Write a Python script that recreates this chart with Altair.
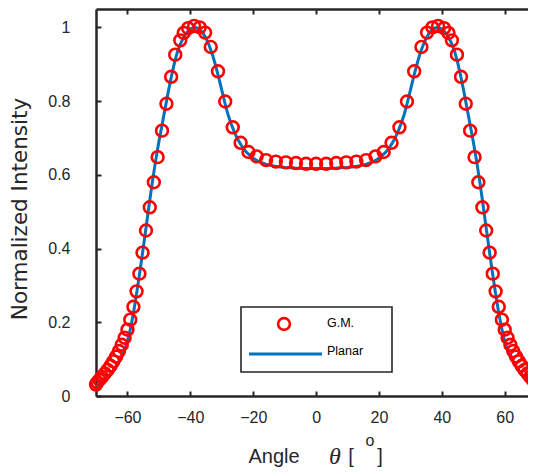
import altair as alt
import pandas as pd

# ---------------- data ----------------
gm_angle = [-70.0, -69.6, -68.9, -68.1, -67.2, -66.3, -65.4, -64.5, -63.6, -62.7,
            -61.8, -60.9, -60.0, -59.1, -58.1, -57.1, -56.2, -55.2, -54.1, -52.9,
            -51.6, -50.4, -49.0, -47.6, -46.1, -44.8, -43.2, -42.1, -40.7, -38.8,
            -37.0, -35.3, -33.5, -31.2, -28.9, -26.5, -24.0, -21.5, -18.9, -15.9,
            -12.8, -9.6, -6.4, -3.2, 0.0,
            3.2, 6.4, 9.6, 12.8, 15.9, 18.9, 21.5, 24.0, 26.5, 28.9,
            31.2, 33.5, 35.3, 37.0, 38.8, 40.7, 42.1, 43.2, 44.8, 46.1,
            47.6, 49.0, 50.4, 51.6, 52.9, 54.1, 55.2, 56.2, 57.1, 58.1,
            59.1, 60.0, 60.9, 61.8, 62.7, 63.6, 64.5, 65.4, 66.3, 67.2,
            68.1, 68.9, 69.6, 70.0]
gm_intensity = [0.031, 0.037, 0.044, 0.052, 0.061, 0.071, 0.082, 0.094, 0.107, 0.122,
                0.139, 0.158, 0.180, 0.207, 0.242, 0.284, 0.332, 0.389, 0.449, 0.512,
                0.580, 0.648, 0.720, 0.793, 0.866, 0.926, 0.965, 0.985, 0.998, 1.004,
                1.000, 0.986, 0.947, 0.881, 0.799, 0.729, 0.687, 0.662, 0.650, 0.640,
                0.636, 0.634, 0.632, 0.630, 0.630,
                0.630, 0.632, 0.634, 0.636, 0.640, 0.650, 0.662, 0.687, 0.729, 0.799,
                0.881, 0.947, 0.986, 1.000, 1.004, 0.998, 0.985, 0.965, 0.926, 0.866,
                0.793, 0.720, 0.648, 0.580, 0.512, 0.449, 0.389, 0.332, 0.284, 0.242,
                0.207, 0.180, 0.158, 0.139, 0.122, 0.107, 0.094, 0.082, 0.071, 0.061,
                0.052, 0.044, 0.037, 0.031]

planar_angle = [-70, -68, -66, -64, -62, -61, -60, -59, -58, -57, -56, -55, -54, -53,
                -52, -51, -50, -49, -48, -47, -46, -45, -44, -43, -42, -41, -40, -39,
                -38, -37, -36, -35, -34, -33, -32, -31, -30, -29, -28, -27, -26, -25,
                -24, -23, -22, -20, -18, -16, -14, -12, -10, -8, -6, -4, -2, 0,
                2, 4, 6, 8, 10, 12, 14, 16, 18, 20, 22, 23, 24, 25, 26, 27, 28, 29,
                30, 31, 32, 33, 34, 35, 36, 37, 38, 39, 40, 41, 42, 43, 44, 45, 46,
                47, 48, 49, 50, 51, 52, 53, 54, 55, 56, 57, 58, 59, 60, 61, 62, 64,
                66, 68, 70]
planar_intensity = [0.026, 0.037, 0.052, 0.073, 0.102, 0.122, 0.148, 0.184, 0.230, 0.283,
                    0.340, 0.400, 0.462, 0.525, 0.585, 0.640, 0.690, 0.735, 0.781, 0.826,
                    0.868, 0.906, 0.937, 0.958, 0.975, 0.988, 0.996, 1.000, 0.999, 0.995,
                    0.985, 0.970, 0.951, 0.927, 0.898, 0.865, 0.830, 0.795, 0.763, 0.738,
                    0.716, 0.698, 0.683, 0.670, 0.660, 0.645, 0.635, 0.629, 0.625, 0.622,
                    0.620, 0.619, 0.618, 0.617, 0.617, 0.617,
                    0.617, 0.617, 0.618, 0.619, 0.620, 0.622, 0.625, 0.629, 0.635, 0.645,
                    0.660, 0.670, 0.683, 0.698, 0.716, 0.738, 0.763, 0.795, 0.830, 0.865,
                    0.898, 0.927, 0.951, 0.970, 0.985, 0.995, 0.999, 1.000, 0.996, 0.988,
                    0.975, 0.958, 0.937, 0.906, 0.868, 0.826, 0.781, 0.735, 0.690, 0.640,
                    0.585, 0.525, 0.462, 0.400, 0.340, 0.283, 0.230, 0.184, 0.148, 0.122,
                    0.102, 0.073, 0.052, 0.037, 0.026]

x_ticks = [-60, -40, -20, 0, 20, 40, 60]
y_ticks = [0, 0.2, 0.4, 0.6, 0.8, 1]
series_names = ["G.M.", "Planar"]
y_title = ["Normalized Intensity"]
x_title_parts = ["Angle", "\u03b8", "[", "o", "]"]

# ---------------- styling ----------------
# The reference axes run from -70 to 70 over ~440 px and are cut off at the
# right edge of the picture; the page only fits ~432 px, so the visible
# domain ends where the reference picture ends.
W, H = 432, 387
AX = "#262626"
FONT = "Liberation Sans"
RED = "#FF0000"
BLUE = "#0072BD"

gm = pd.DataFrame({"angle": gm_angle, "intensity": gm_intensity})
pl = pd.DataFrame({"angle": planar_angle, "intensity": planar_intensity})

xs = alt.Scale(domain=[-70, 67.4], nice=False, zero=False)
ys = alt.Scale(domain=[0, 1.05], nice=False, zero=False)

common = dict(grid=False, title=None, domainColor=AX, tickColor=AX, labelColor=AX,
              labelFont=FONT, domainWidth=2.5, tickWidth=2)

points = alt.Chart(gm).mark_point(
    shape="circle", filled=False, stroke=RED, strokeWidth=2.6, size=139, opacity=1
).encode(
    x=alt.X("angle:Q", scale=xs, axis=alt.Axis(
        orient="bottom", values=x_ticks, ticks=False, tickSize=0, labelPadding=13,
        labelFontSize=16, format="d", **common)),
    y=alt.Y("intensity:Q", scale=ys, axis=alt.Axis(
        orient="left", values=y_ticks, ticks=False, tickSize=0, labelPadding=26,
        labelFontSize=16, format="~g", **common)),
)

line = alt.Chart(pl).mark_line(color=BLUE, strokeWidth=3).encode(
    x=alt.X("angle:Q", scale=xs, axis=alt.Axis(
        orient="top", offset=-H, values=x_ticks, labels=False, domain=False,
        tickSize=5, **common)),
    y=alt.Y("intensity:Q", scale=ys, axis=alt.Axis(
        orient="right", offset=-W, values=y_ticks, labels=False, domain=False,
        tickSize=5, **common)),
)

frame = alt.Chart(pl).mark_line(opacity=0).encode(
    x=alt.X("angle:Q", scale=xs, axis=alt.Axis(
        orient="bottom", offset=-H, values=x_ticks, labels=False, domain=True,
        tickSize=5, **common)),
)

leg_df = pd.DataFrame({"label": series_names})
leg_box = alt.Chart(leg_df).transform_filter(
    alt.datum.label == series_names[0]
).mark_rect(fill="white", stroke=AX, strokeWidth=1.6).encode(
    x=alt.value(145), x2=alt.value(296), y=alt.value(298), y2=alt.value(363)
)
leg_pt = alt.Chart(leg_df).transform_filter(
    alt.datum.label == series_names[0]
).mark_point(shape="circle", filled=False, stroke=RED, strokeWidth=2.6, size=139, opacity=1).encode(
    x=alt.value(188), y=alt.value(315)
)
leg_ln = alt.Chart(leg_df).transform_filter(
    alt.datum.label == series_names[1]
).mark_rule(stroke=BLUE, strokeWidth=3).encode(
    x=alt.value(153), x2=alt.value(226), y=alt.value(345)
)
leg_txt1 = alt.Chart(leg_df).transform_filter(
    alt.datum.label == series_names[0]
).mark_text(align="left", baseline="middle", font=FONT, fontSize=12.5, color="black").encode(
    x=alt.value(231), y=alt.value(314), text="label:N"
)
leg_txt2 = alt.Chart(leg_df).transform_filter(
    alt.datum.label == series_names[1]
).mark_text(align="left", baseline="middle", font=FONT, fontSize=12.5, color="black").encode(
    x=alt.value(231), y=alt.value(342), text="label:N"
)

yt = alt.Chart(pd.DataFrame({"t": y_title})).mark_text(
    angle=270, align="center", baseline="middle", font="DejaVu Sans", fontSize=21.5,
    color=AX
).encode(x=alt.value(-75), y=alt.value(200), text="t:N")

xt_df = pd.DataFrame({"t": x_title_parts})
def part(i, x, y, size, font=FONT, style="normal"):
    return alt.Chart(xt_df).transform_filter(alt.datum.t == x_title_parts[i]).mark_text(
        align="center", baseline="alphabetic", font=font, fontSize=size,
        fontStyle=style, color=AX
    ).encode(x=alt.value(x), y=alt.value(y), text="t:N")

xt = [
    part(0, 178, 454, 20),
    part(1, 239, 455, 24, font="Liberation Serif", style="italic"),
    part(2, 255, 454, 20),
    part(3, 274, 437, 16),
    part(4, 284, 454, 20),
]

chart = alt.layer(
    line, points, frame, leg_box, leg_pt, leg_ln, leg_txt1, leg_txt2, yt, *xt
).resolve_axis(x="independent", y="independent").properties(
    width=W, height=H, autosize="none",
    padding={"left": 88, "top": 1, "right": 0, "bottom": 72},
).configure_view(stroke=None).configure(background="white")

chart.save("out.html", embed_options={"renderer": "svg", "actions": False})
